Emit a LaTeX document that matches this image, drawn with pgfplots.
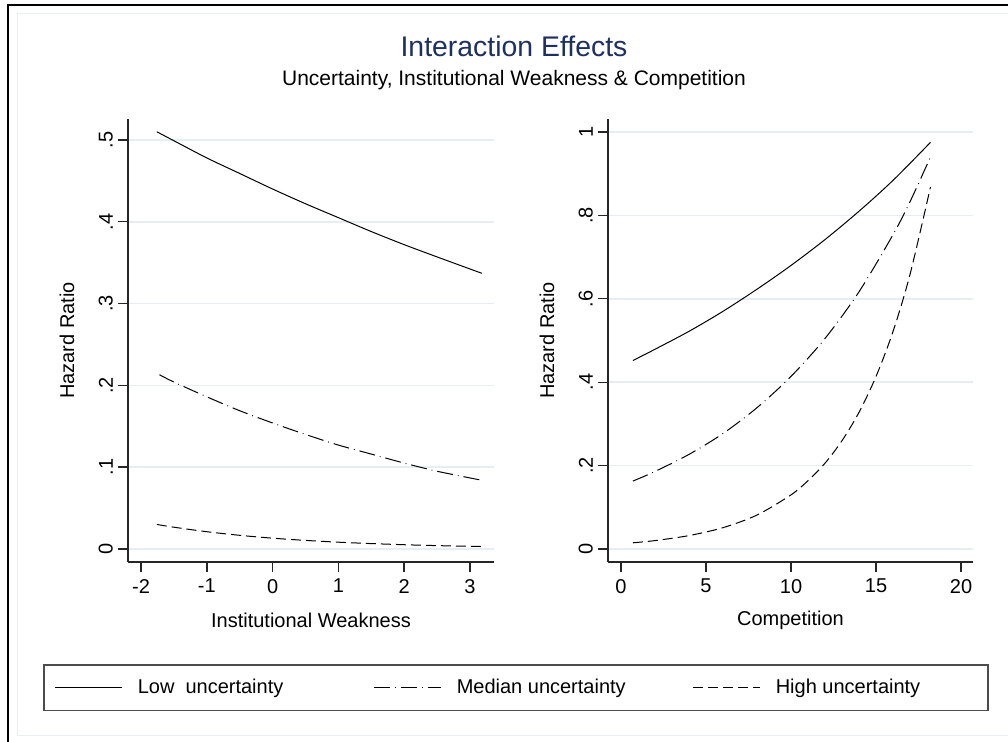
\documentclass[border=0pt]{standalone}
\usepackage{fontspec}
\setmainfont{Liberation Sans}
\usepackage{pgfplots}
\pgfplotsset{compat=1.18}
\definecolor{titlenavy}{RGB}{30,48,98}
\definecolor{gridc}{RGB}{230,238,241}
\definecolor{frameblue}{RGB}{232,240,242}

\pgfplotsset{
  statastyle/.style={
    scale only axis, height=221.5pt,
    axis x line*=bottom, axis y line*=left,
    axis line style={-, line width=0.8pt, black!85},
    tick align=outside, major tick length=5pt,
    tick style={line width=0.7pt, black!85},
    ymajorgrids, grid style={line width=0.8pt, gridc},
    tick label style={font=\fontsize{10}{12}\selectfont},
    yticklabel style={rotate=90, anchor=south},
    yticklabel shift=-1pt,
    label style={font=\fontsize{10}{12}\selectfont},
    every axis x label/.style={at={(axis description cs:0.5,0)}, yshift=-29pt, anchor=center},
    every axis y label/.style={at={(axis description cs:0,0.5)}, xshift=-30.5pt, rotate=90, anchor=center},
    ylabel={Hazard Ratio},
  },
  lowu/.style={black, line width=0.5pt, smooth},
  medu/.style={black, line width=0.5pt, smooth, dash pattern=on 8pt off 2.5pt on 0.4pt off 2.5pt},
  highu/.style={black, line width=0.5pt, smooth, dash pattern=on 5pt off 2.5pt},
}

\begin{document}
\begin{tikzpicture}
\path[use as bounding box] (0pt,0pt) rectangle (504pt,371pt);
% outer frames
\draw[frameblue, line width=0.5pt] (8.5pt,3pt) -- (8.5pt,364pt) -- (510pt,364pt);
\draw[frameblue, line width=0.5pt] (8.5pt,3pt) -- (510pt,3pt);
\draw[black, line width=0.9pt] (4pt,0pt) -- (4pt,368.5pt) -- (504pt,368.5pt);

\node[font=\fontsize{14.2}{16}\selectfont, text=titlenavy] at (257pt,348pt) {Interaction Effects};
\node[font=\fontsize{10.5}{12}\selectfont] at (257pt,331pt) {Uncertainty, Institutional Weakness \& Competition};

\begin{axis}[statastyle, at={(64pt,90pt)}, anchor=south west, width=183pt,
  xmin=-2.198, xmax=3.365, ymin=-0.0159, ymax=0.5256,
  xtick={-2,-1,0,1,2,3}, xticklabels={-2,-1,0,1,2,3},
  ytick={0,0.1,0.2,0.3,0.4,0.5}, yticklabels={0,.1,.2,.3,.4,.5},
  xlabel={Institutional Weakness},
  legend columns=3,
  legend style={at={(axis description cs:-0.2322,-0.2844)}, anchor=west,
    draw=black!70, line width=0.75pt, inner xsep=5.5pt, inner ysep=7pt,
    nodes={inner sep=0pt}, font=\fontsize{10}{12}\selectfont},
  legend image code/.code={\draw[#1, smooth=false] (0pt,0pt) -- (33.5pt,0pt);},
]
\addplot[lowu] coordinates {(-1.76,0.510)(-1.5,0.499)(-1,0.478)(-0.5,0.459)(0,0.440)(0.5,0.422)(1,0.405)(1.5,0.388)(2,0.372)(2.5,0.357)(3.18,0.337)};
\addlegendentry{\makebox[125.5pt][l]{\hspace{7.5pt}Low\ \ uncertainty}}
\addplot[medu] coordinates {(-1.72,0.213)(-1.5,0.204)(-1,0.186)(-0.5,0.169)(0,0.154)(0.5,0.140)(1,0.127)(1.5,0.116)(2,0.105)(2.5,0.095)(3.18,0.084)};
\addlegendentry{\makebox[125.5pt][l]{\hspace{7.5pt}Median uncertainty}}
\addplot[highu] coordinates {(-1.76,0.030)(-1.5,0.0266)(-1,0.0211)(-0.5,0.0167)(0,0.0132)(0.5,0.0105)(1,0.0083)(1.5,0.0066)(2,0.0052)(2.5,0.0041)(3.18,0.0030)};
\addlegendentry{\makebox[108pt][l]{\hspace{7.5pt}High uncertainty}}
\end{axis}

\begin{axis}[statastyle, at={(304pt,90pt)}, anchor=south west, width=182.5pt,
  xmin=-0.765, xmax=20.7, ymin=-0.031, ymax=1.031,
  xtick={0,5,10,15,20}, xticklabels={0,5,10,15,20},
  ytick={0,0.2,0.4,0.6,0.8,1}, yticklabels={0,.2,.4,.6,.8,1},
  xlabel={Competition},
]
\addplot[lowu] coordinates {(0.7,0.452)(2,0.479)(4,0.522)(6,0.570)(8,0.623)(10,0.680)(12,0.742)(14,0.810)(16,0.884)(18.2,0.975)};
\addplot[medu] coordinates {(0.7,0.163)(2,0.186)(4,0.227)(6,0.277)(8,0.339)(10,0.414)(12,0.505)(14,0.617)(16,0.754)(17,0.833)(18.2,0.940)};
\addplot[highu] coordinates {(0.7,0.015)(2,0.0203)(4,0.0323)(6,0.0513)(8,0.0816)(10,0.130)(11,0.164)(12,0.206)(13,0.260)(14,0.328)(15,0.414)(16,0.522)(17,0.659)(18.2,0.868)};
\end{axis}
\end{tikzpicture}
\end{document}
